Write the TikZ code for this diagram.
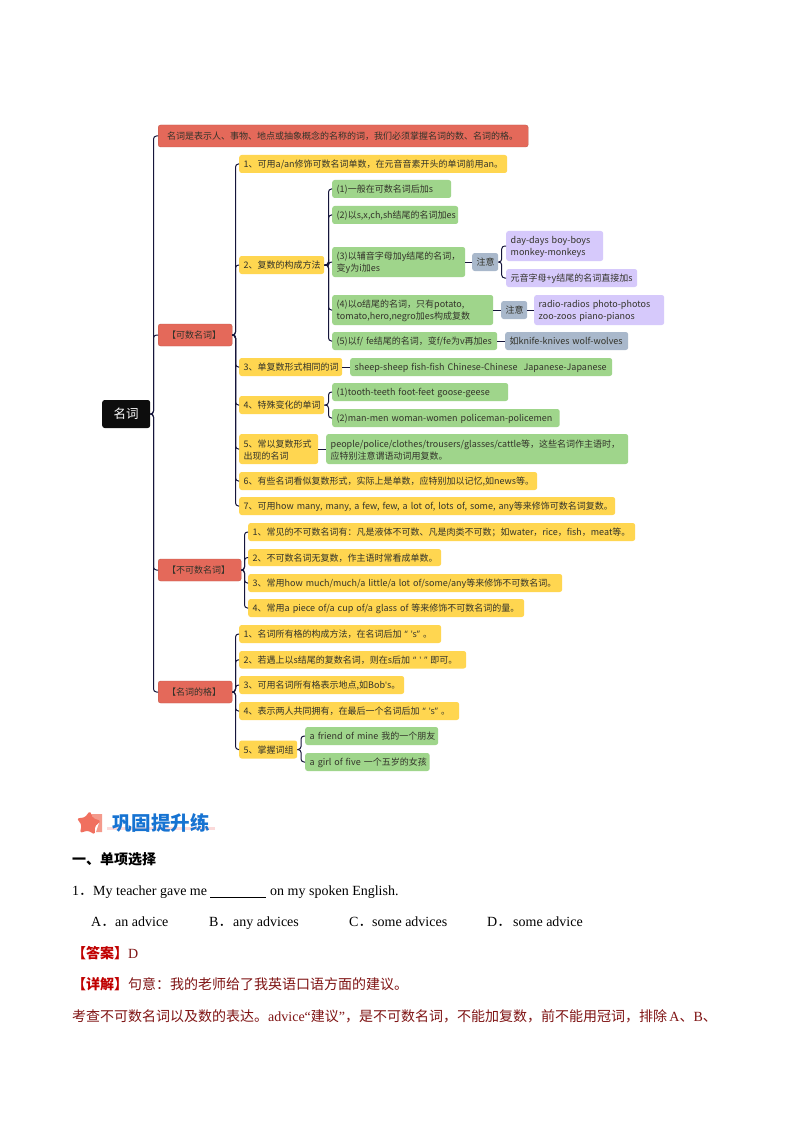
\documentclass[tikz,border=0pt]{standalone}
\usepackage{fontspec}
\usetikzlibrary{shapes.geometric}
\setmainfont{Noto Sans CJK SC}
\newfontfamily\ser{Liberation Serif}
\newfontfamily\lat{Open Sans}
\definecolor{redbox}{HTML}{E4695A}
\definecolor{yelbox}{HTML}{FFD650}
\definecolor{grnbox}{HTML}{9FD58B}
\definecolor{blubox}{HTML}{A9B8CB}
\definecolor{purbox}{HTML}{D6C9FB}
\definecolor{lnk}{HTML}{15153A}
\definecolor{txt}{HTML}{33332A}
\definecolor{ans}{HTML}{7F1414}
\definecolor{brk}{HTML}{C00000}
\definecolor{ttl}{HTML}{1673D2}
\definecolor{starc}{HTML}{F0705F}
\definecolor{flagc}{HTML}{F49A8C}
\definecolor{pinku}{HTML}{FBDADA}
\newcommand\fc{\char"FF0C\relax}
\newcommand\fk{\char"FF1A\relax}
\newcommand\fs{\char"FF1B\relax}
\newcommand\fd{{\rmfamily\char"FF0E\relax}}
\newcommand\bx[7]{\node[#6,anchor=west,text width={(#4-#2-9)*1pt},minimum height={(#5-#3)*1pt}] (#1) at (#2,{(#3+#5)/2}) {#7\vspace*{-1.6pt}};}
\newcommand\cn[3]{\draw[lnkline] (#1.east) -- (#1.east -| #3) -- (#3 |- #2.west) -- (#2.west);}
\newcommand\dr[2]{\draw[lnkline] (#1.east) -- (#2.west);}
\tikzset{
 boxbase/.style={rounded corners=2.5pt,inner xsep=4.5pt,inner ysep=0pt,align=left,text=txt,font=\fontsize{9}{12.2}\selectfont},
 redb/.style={boxbase,fill=redbox,draw=redbox!85!black,line width=.4pt},
 yelb/.style={boxbase,fill=yelbox},
 grnb/.style={boxbase,fill=grnbox},
 blub/.style={boxbase,fill=blubox},
 purb/.style={boxbase,fill=purbox},
 rootb/.style={rounded corners=2.5pt,fill=black!95,text=white,inner sep=0pt,font=\fontsize{12.5}{14}\selectfont},
 lnkline/.style={draw=lnk,line width=1pt,rounded corners=3pt},
 bodyt/.style={anchor=base west,inner sep=0pt,font=\fontsize{14}{16}\selectfont},
 engl/.style={anchor=base west,inner sep=0pt,font=\ser\fontsize{14}{16}\selectfont},
 anst/.style={bodyt,text=ans},
}
\begin{document}
\begin{tikzpicture}[x=1pt,y=-1pt]
\useasboundingbox (0,0) rectangle (794,1123);
\fill[white] (0,0) rectangle (794,1123);
\coordinate (s1) at (153.5,0);
\coordinate (s2) at (235.5,0);
\coordinate (s3) at (328.5,0);
\coordinate (s4) at (501.7,0);
\coordinate (s5) at (244.5,0);
\coordinate (s6) at (301,0);
\node[rootb,anchor=west,minimum width=48pt,minimum height=28pt] (root) at (102,414) {名词};
\bx{top}{158}{125}{528}{147}{redb}{\hspace{4.5pt}名词是表示人、事物、地点或抽象概念的名称的词\fc 我们必须掌握名词的数、名词的格。}
\bx{cnt}{158}{324}{232}{346}{redb}{\hspace{4.5pt}【可数名词】}
\bx{unc}{158}{559}{241}{581}{redb}{\hspace{4.5pt}【不可数名词】}
\bx{pos}{158}{681}{232}{703}{redb}{\hspace{4.5pt}【名词的格】}
\bx{ya}{239}{155}{507}{173}{yelb}{1、可用a/an修饰可数名词单数\fc 在元音音素开头的单词前用an。}
\bx{yb}{239}{256}{324}{274}{yelb}{2、复数的构成方法}
\bx{yc}{239}{358}{342}{376}{yelb}{3、单复数形式相同的词}
\bx{yd}{239}{396}{324}{414}{yelb}{4、特殊变化的单词}
\bx{ye}{239}{434}{318}{464}{yelb}{5、常以复数形式\\出现的名词}
\bx{yf}{239}{472}{537}{490}{yelb}{6、有些名词看似复数形式\fc 实际上是单数\fc 应特别加以记忆,如news等。}
\bx{yg}{239}{497}{615}{515}{yelb}{7、可用how~many,~many,~a~few,~few,~a~lot~of,~lots~of,~some,~any等来修饰可数名词复数。}
\bx{ga}{332}{180}{451}{198}{grnb}{(1)一般在可数名词后加s}
\bx{gb}{332}{206}{458}{224}{grnb}{(2)以s,x,ch,sh结尾的名词加es}
\bx{gc}{332}{247}{465}{277}{grnb}{(3)以辅音字母加y结尾的名词\fc\\变y为i加es}
\bx{gd}{332}{295}{493}{325}{grnb}{(4)以o结尾的名词\fc 只有potato,\\tomato,hero,negro加es构成复数}
\bx{ge}{332}{332}{497}{350}{grnb}{(5)以f/~fe结尾的名词\fc 变f/fe为v再加es}
\bx{na}{472}{253}{498}{271}{blub}{注意}
\bx{pa}{506}{231}{603}{261}{purb}{day-days boy-boys\\monkey-monkeys}
\bx{pb}{506}{269}{637}{287}{purb}{元音字母+y结尾的名词直接加s}
\bx{nb}{501}{301}{527}{319}{blub}{注意}
\bx{pc}{534}{295}{664}{325}{purb}{radio-radios photo-photos\\zoo-zoos piano-pianos}
\bx{kn}{505}{332}{628}{350}{blub}{如knife-knives wolf-wolves}
\bx{sh}{350}{358}{612}{376}{grnb}{sheep-sheep fish-fish Chinese-Chinese~~Japanese-Japanese}
\bx{to}{332}{383}{508}{401}{grnb}{(1)tooth-teeth foot-feet goose-geese}
\bx{ma}{332}{409}{559.5}{427}{grnb}{(2)man-men woman-women policeman-policemen}
\bx{pe}{326}{434}{628}{464}{grnb}{people/police/clothes/trousers/glasses/cattle等\fc 这些名词作主语时\fc\\应特别注意谓语动词用复数。}
\bx{ua}{248}{523}{635}{541}{yelb}{1、常见的不可数名词有\fk 凡是液体不可数、凡是肉类不可数\fs 如water\fc rice\fc fish\fc meat等。}
\bx{ub}{248}{549}{441}{566}{yelb}{2、不可数名词无复数\fc 作主语时常看成单数。}
\bx{uc}{248}{574}{562}{592}{yelb}{3、常用how~much/much/a~little/a~lot~of/some/any等来修饰不可数名词。}
\bx{ud}{248}{599}{524}{617}{yelb}{4、常用a~piece~of/a~cup~of/a~glass~of~等来修饰不可数名词的量。}
\bx{oa}{239}{625}{441}{643}{yelb}{1、名词所有格的构成方法\fc 在名词后加{\lat~“~\char39 s”~}。}
\bx{ob}{239}{651}{466}{668.5}{yelb}{2、若遇上以s结尾的复数名词\fc 则在s后加{\lat~“~\char39~”~}即可。}
\bx{oc}{239}{676}{404}{694}{yelb}{3、可用名词所有格表示地点,如Bob{\lat\char39}s。}
\bx{od}{239}{702}{459}{720}{yelb}{4、表示两人共同拥有\fc 在最后一个名词后加{\lat~“~\char39 s”~}。}
\bx{oe}{239}{740.5}{297}{758.5}{yelb}{5、掌握词组}
\bx{fr}{305}{727}{438}{745}{grnb}{a~friend~of~mine~我的一个朋友}
\bx{gi}{305}{753}{429.5}{771}{grnb}{a~girl~of~five~一个五岁的女孩}
\foreach \c in {top,cnt,unc,pos}{\cn{root}{\c}{s1}}
\foreach \c in {ya,yb,yc,yd,ye,yf,yg}{\cn{cnt}{\c}{s2}}
\foreach \c in {ga,gb,gc,gd,ge}{\cn{yb}{\c}{s3}}
\foreach \c in {to,ma}{\cn{yd}{\c}{s3}}
\foreach \c in {pa,pb}{\cn{na}{\c}{s4}}
\foreach \c in {ua,ub,uc,ud}{\cn{unc}{\c}{s5}}
\foreach \c in {oa,ob,oc,od,oe}{\cn{pos}{\c}{s2}}
\foreach \c in {fr,gi}{\cn{oe}{\c}{s6}}
\dr{gc}{na}
\dr{gd}{nb}
\dr{nb}{pc}
\dr{ge}{kn}
\dr{yc}{sh}
\dr{ye}{pe}
% heading
\fill[pinku] (107,827) rectangle (215,830);
\fill[flagc] (91,814) -- (102,814) -- (102,832) -- (96,832) -- (99,823) -- (94,819) -- cycle;
\node[star,star points=5,star point ratio=1.75,fill=starc,inner sep=0pt,minimum size=25pt,rotate=-6,rounded corners=1.5pt] (stari) at (88.5,823.5) {};
\node[anchor=base west,inner sep=0pt,text=ttl,font=\bfseries\fontsize{19.5}{22}\selectfont] (ti) at (112,830) {巩固提升练};
\node[bodyt,font=\bfseries\fontsize{14}{16}\selectfont] (h1) at (72,864) {一、单项选择};
\node[engl] (q1) at (72,895) {1\fd};
\node[engl] (q2) at (93,895) {My teacher gave me};
\node[engl] (q3) at (270,895) {on my spoken English.};
\coordinate (bl) at (210,897.5);
\coordinate (br) at (266,897.5);
\draw[line width=.8pt] (bl) -- (br);
\node[engl] (oa) at (91,926) {A\fd};
\node[engl] (ob) at (115,926) {an advice};
\node[engl] (oc) at (209,926) {B\fd};
\node[engl] (od) at (233,926) {any advices};
\node[engl] (oe) at (349,926) {C\fd};
\node[engl] (of) at (372,926) {some advices};
\node[engl] (og) at (487,926) {D\fd};
\node[engl] (oh) at (513,926) {some advice};
\node[anst] (a1) at (72,958) {\textcolor{brk}{\bfseries【答案】}{\ser D}};
\node[anst] (a2) at (72,989) {\textcolor{brk}{\bfseries【详解】}句意\fk 我的老师给了我英语口语方面的建议。};
\node[anst] (a3) at (72,1021) {考查不可数名词以及数的表达。{\ser advice“}建议{\ser ”}\fc 是不可数名词\fc 不能加复数\fc 前不能用冠词\fc 排除{\ser\,A}、{\ser B}、};
\end{tikzpicture}
\end{document}
